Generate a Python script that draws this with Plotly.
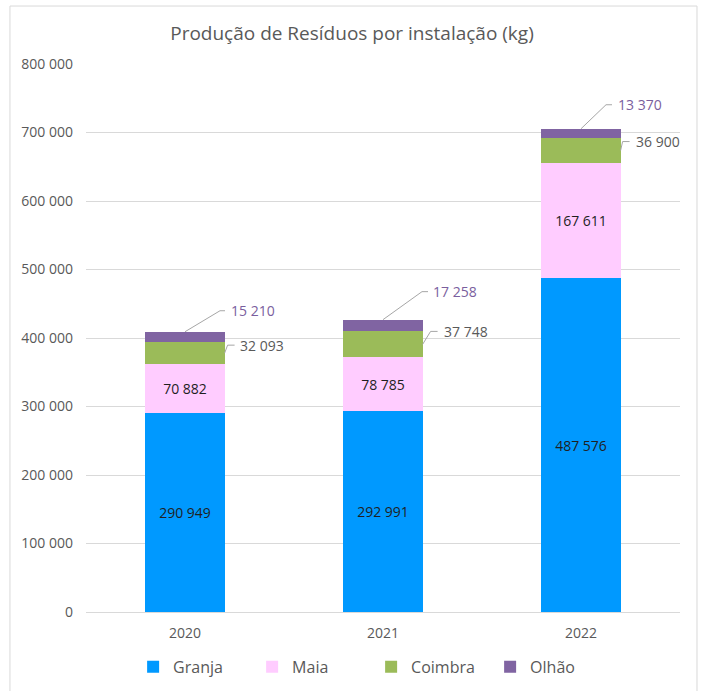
import plotly.graph_objects as go

# dados (kg)
anos = ["2020", "2021", "2022"]
granja = [290949, 292991, 487576]
maia = [70882, 78785, 167611]
coimbra = [32093, 37748, 36900]
olhao = [15210, 17258, 13370]

series = [
    ("Granja", granja, "#0099FF"),
    ("Maia", maia, "#FFCCFF"),
    ("Coimbra", coimbra, "#9BBB59"),
    ("Olhão", olhao, "#8064A2"),
]

FONT = "Open Sans"
GREY = "#595959"
BAR_W = 0.4


def fmt(v):
    return f"{v:,}".replace(",", " ")


fig = go.Figure()
for nome, vals, cor in series:
    interno = nome in ("Granja", "Maia")
    fig.add_trace(go.Bar(
        name=nome,
        x=anos,
        y=vals,
        width=BAR_W,
        marker=dict(color=cor, line=dict(width=0)),
        text=[fmt(v) for v in vals] if interno else None,
        textposition="inside" if interno else "none",
        insidetextanchor="middle",
        textangle=0,
        textfont=dict(family=FONT, size=14, color="#1F1F1F"),
        hoverinfo="skip",
    ))

# rótulos externos com linhas de chamada (deslocamentos em px)
off_olhao = [(35, 21, 40, 44), (39, 28, 45, 48), (25, 24, 31, 35)]
off_coimbra = [(3, 8, 10, 13), (8, 13, 15, 19), (2, 9, 9, 13)]

shapes = []
annotations = []
for i in range(len(anos)):
    base = granja[i] + maia[i]
    topo = base + coimbra[i] + olhao[i]
    meio_c = base + coimbra[i] / 2

    # Olhão: do topo da barra (centro)
    dx, dy, tx, lx = off_olhao[i]
    shapes.append(dict(
        type="path", xref="x", yref="y",
        xsizemode="pixel", ysizemode="pixel",
        xanchor=i, yanchor=topo,
        path=f"M 0 0 L {dx} {dy} L {tx} {dy}",
        line=dict(color="#A6A6A6", width=1),
    ))
    annotations.append(dict(
        x=i, y=topo, xref="x", yref="y", showarrow=False,
        text=fmt(olhao[i]), xanchor="left", yanchor="middle",
        xshift=lx, yshift=dy,
        font=dict(family=FONT, size=14, color="#7A5E9E"),
    ))

    # Coimbra: da aresta direita da barra
    dx, dy, tx, lx = off_coimbra[i]
    shapes.append(dict(
        type="path", xref="x", yref="y",
        xsizemode="pixel", ysizemode="pixel",
        xanchor=i + BAR_W / 2, yanchor=meio_c,
        path=f"M 0 0 L {dx} {dy} L {tx} {dy}",
        line=dict(color="#A6A6A6", width=1),
    ))
    annotations.append(dict(
        x=i + BAR_W / 2, y=meio_c, xref="x", yref="y", showarrow=False,
        text=fmt(coimbra[i]), xanchor="left", yanchor="middle",
        xshift=lx, yshift=dy,
        font=dict(family=FONT, size=14, color=GREY),
    ))

# moldura do gráfico
shapes.append(dict(
    type="rect", xref="paper", yref="paper",
    x0=-0.128, x1=1.0286, y0=-0.16, y1=1.1058,
    line=dict(color="#D9D9D9", width=1), layer="below",
))

fig.update_layout(
    barmode="stack",
    width=704, height=691,
    margin=dict(l=86, r=24, t=64, b=79, autoexpand=False),
    paper_bgcolor="white",
    plot_bgcolor="white",
    separators=", ",
    font=dict(family=FONT, color=GREY, size=13),
    title=dict(
        text="Produção de Resíduos por instalação (kg)",
        x=0.5, xanchor="center", y=0.952, yanchor="middle",
        font=dict(family=FONT, size=19, color=GREY),
    ),
    xaxis=dict(
        type="category",
        range=[-0.5, 2.5],
        showgrid=False,
        showline=True, linecolor="#D9D9D9", linewidth=1,
        ticks="", ticklabelstandoff=8,
        tickfont=dict(size=14, color=GREY),
    ),
    yaxis=dict(
        range=[0, 800000],
        tickvals=[i * 100000 for i in range(9)],
        tickformat=",d",
        showgrid=True, gridcolor="#D9D9D9", gridwidth=1,
        zeroline=False, showline=False,
        ticks="", ticklabelstandoff=12,
        tickfont=dict(size=14, color=GREY),
    ),
    legend=dict(
        orientation="h",
        x=0.48, xanchor="center",
        y=-0.1, yanchor="middle",
        font=dict(family=FONT, size=16, color=GREY),
        traceorder="normal",
        entrywidth=74,
    ),
    shapes=shapes,
    annotations=annotations,
    showlegend=True,
)

fig.write_html(
    "out.html",
    config={"displayModeBar": False},
    post_script="document.body.style.margin='0';",
)
